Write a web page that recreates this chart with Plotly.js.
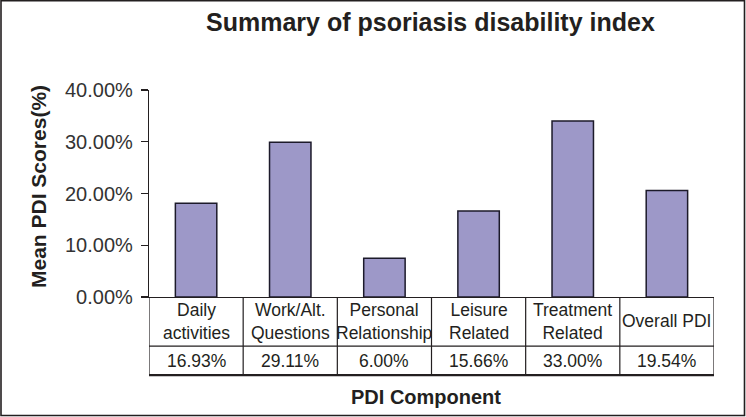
<!DOCTYPE html>
<html>
<head>
<meta charset="utf-8">
<script src="https://cdn.plot.ly/plotly-3.0.1.min.js"></script>
<style>
  html, body { margin: 0; padding: 0; background: #fff; }
  #chart { width: 746px; height: 417px; }
</style>
</head>
<body>
<div id="chart"></div>
<script>
// ---- data ----
const categories = ["Daily<br>activities", "Work/Alt.<br>Questions", "Personal<br>Relationship", "Leisure<br>Related", "Treatment<br>Related", "Overall PDI"];
const barValues = [0.181, 0.299, 0.075, 0.166, 0.340, 0.206];
const tableValues = ["16.93%", "29.11%", "6.00%", "15.66%", "33.00%", "19.54%"];
const yTicks = [0, 0.1, 0.2, 0.3, 0.4];

// ---- styling ----
const dark = "#231f20";
const fontFam = "Liberation Sans, Arial, sans-serif";
const idx = categories.map((_, i) => i);

// table geometry (paper units relative to plot area height)
const headerBottom = -0.237;
const tableBottom = -0.377;
const headerMid = -0.118;
const valueMid = -0.308;

const shapes = [];
for (let i = 0; i <= categories.length; i++) {
  shapes.push({type: "line", xref: "x", yref: "paper", x0: i - 0.5, x1: i - 0.5,
    y0: 0, y1: tableBottom, line: {color: dark, width: 1.2}});
}
shapes.push({type: "line", xref: "paper", yref: "paper", x0: 0, x1: 1,
  y0: headerBottom, y1: headerBottom, line: {color: dark, width: 1.2}});
shapes.push({type: "line", xref: "paper", yref: "paper", x0: 0, x1: 1,
  y0: tableBottom, y1: tableBottom, line: {color: dark, width: 2.2}});
shapes.push({type: "rect", xref: "paper", yref: "paper",
  x0: (1 - 149) / 565, x1: (744.5 - 149) / 565,
  y0: (297 - 415.5) / 207, y1: (297 - 0.8) / 207,
  line: {color: dark, width: 1.6}, fillcolor: "rgba(0,0,0,0)"});

const annotations = [];
idx.forEach(i => {
  annotations.push({xref: "x", yref: "paper", x: i, y: headerMid, text: categories[i],
    showarrow: false, xanchor: "center", yanchor: "middle",
    font: {family: fontFam, size: 17.5, color: dark}});
  annotations.push({xref: "x", yref: "paper", x: i, y: valueMid, text: tableValues[i],
    showarrow: false, xanchor: "center", yanchor: "middle",
    font: {family: fontFam, size: 17.5, color: dark}});
});
annotations.push({xref: "paper", yref: "paper", x: (38 - 149) / 565, y: (297 - 187) / 207,
  text: "<b>Mean PDI Scores(%)</b>", textangle: -90, showarrow: false,
  xanchor: "center", yanchor: "middle", font: {family: fontFam, size: 21, color: dark}});
annotations.push({xref: "paper", yref: "paper", x: (426 - 149) / 565, y: (297 - 397) / 207,
  text: "<b>PDI Component</b>", showarrow: false,
  xanchor: "center", yanchor: "middle", font: {family: fontFam, size: 20, color: dark}});

const trace = {
  type: "bar",
  x: idx,
  y: barValues,
  marker: {color: "#9d98c8", line: {color: "#1c1a2a", width: 1.5}},
  hoverinfo: "skip"
};

const layout = {
  width: 746, height: 417,
  margin: {l: 149, r: 32, t: 90, b: 120, pad: 0},
  paper_bgcolor: "#fff", plot_bgcolor: "#fff",
  showlegend: false,
  bargap: 0.56,
  title: {text: "<b>Summary of psoriasis disability index</b>", x: 0.577, xanchor: "center",
    y: 1 - 22 / 417, yanchor: "middle", font: {family: fontFam, size: 25, color: dark}},
  xaxis: {range: [-0.5, 5.5], showticklabels: false, ticks: "", showgrid: false, zeroline: false,
    showline: true, linecolor: dark, linewidth: 1.2, fixedrange: true},
  yaxis: {range: [0, 0.4], tickvals: yTicks, tickformat: ".2%", ticks: "outside", ticklen: 7,
    tickcolor: dark, tickwidth: 1.2, showgrid: false, zeroline: false, showline: true,
    linecolor: dark, linewidth: 1.2, ticklabelstandoff: 4,
    tickfont: {family: fontFam, size: 20, color: "#333"}, fixedrange: true},
  shapes: shapes,
  annotations: annotations
};

Plotly.newPlot("chart", [trace], layout, {displayModeBar: false, staticPlot: true});
</script>
</body>
</html>
